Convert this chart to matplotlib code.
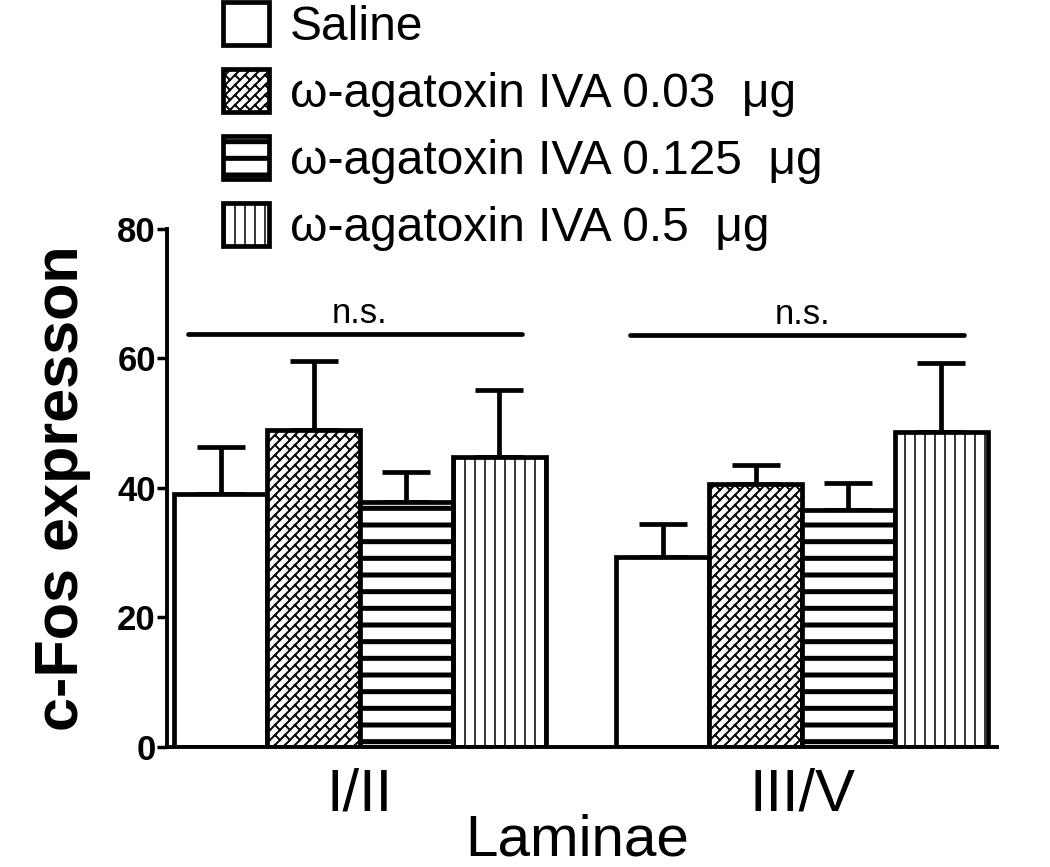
import numpy as np
import matplotlib
matplotlib.use('Agg')
import matplotlib.pyplot as plt
import matplotlib.hatch as mhatch
from matplotlib.path import Path

plt.rcParams['font.family'] = ['Liberation Sans', 'DejaVu Sans']

## ============= data =================================================
groups = ['I/II', 'III/V']
treatments = ['Saline',
              'ω-agatoxin IVA 0.03  μg',
              'ω-agatoxin IVA 0.125  μg',
              'ω-agatoxin IVA 0.5  μg']

saline = [39.0, 29.4]
aga_003 = [49.0, 40.6]
aga_0125 = [37.9, 36.6]
aga_05 = [44.8, 48.7]

saline_sem = [7.4, 5.1]
aga_003_sem = [10.6, 2.9]
aga_0125_sem = [4.5, 4.2]
aga_05_sem = [10.3, 10.6]

ns_level = [63.8, 63.6]
ns_text = ['n.s.', 'n.s.']
yticks = [0, 20, 40, 60, 80]
## ====================================================================


class BrickHatch(mhatch.HatchPatternBase):
    """diagonal brick pattern, takes the place of 'o'"""
    def __init__(self, hatch, density):
        segs = []
        if 'o' in hatch:
            nrow, ncol = 10, 5
            for k in range(-nrow, nrow):
                c0, c1 = k / nrow, (k + 1) / nrow
                segs += [(-0.1, -0.1 + c0), (1.1, 1.1 + c0)]
                for m in range(-2, 2 * ncol + 3):
                    u = (m + 0.5 * (k % 2)) / ncol
                    segs += [((u - c0) / 2, (u + c0) / 2), ((u - c1) / 2, (u + c1) / 2)]
        self.segs = np.array(segs, dtype=float).reshape(-1, 2)
        self.num_vertices = len(self.segs)

    def set_vertices_and_codes(self, vertices, codes):
        vertices[:] = self.segs
        codes[0::2] = Path.MOVETO
        codes[1::2] = Path.LINETO


class VLineHatch(mhatch.HatchPatternBase):
    """thin vertical lines, 10 per tile, takes the place of 'O'"""
    def __init__(self, hatch, density):
        n = 10 if 'O' in hatch else 0
        xs = (np.arange(n) + 0.5) / max(n, 1)
        segs = []
        for xx in xs:
            segs += [(xx, -0.1), (xx, 1.1)]
        self.segs = np.array(segs, dtype=float).reshape(-1, 2)
        self.num_vertices = len(self.segs)

    def set_vertices_and_codes(self, vertices, codes):
        vertices[:] = self.segs
        codes[0::2] = Path.MOVETO
        codes[1::2] = Path.LINETO


mhatch._hatch_types = [t for t in mhatch._hatch_types
                       if t not in (mhatch.SmallCircles, mhatch.LargeCircles)]
mhatch._hatch_types += [BrickHatch, VLineHatch]

fig = plt.figure(figsize=(10.5, 8.67), dpi=100)
ax = fig.add_axes([0.159, 0.1384, 0.7905, 0.5975])

x = np.arange(len(groups))
w = 0.21
lw = 3.4
series = [(saline, saline_sem, '', 1.0),
          (aga_003, aga_003_sem, 'o', 1.4),
          (aga_0125, aga_0125_sem, '-', 3.6),
          (aga_05, aga_05_sem, 'O', 1.1)]

handles = []
for i, (vals, sem, hatch, hlw) in enumerate(series):
    pos = x + (i - 1.5) * w
    plt.rcParams['hatch.linewidth'] = hlw
    bars = ax.bar(pos, vals, width=w, color='white', edgecolor='black',
                  linewidth=lw, hatch=hatch, zorder=2)
    for b in bars:
        if hasattr(b, 'set_hatch_linewidth'):
            b.set_hatch_linewidth(hlw)
    ax.errorbar(pos, vals, yerr=[np.zeros(len(vals)), sem], fmt='none',
                ecolor='black', elinewidth=lw, capsize=17, capthick=lw, zorder=1)
    handles.append(bars)

for i in range(len(groups)):
    ax.plot([x[i] - 0.39, x[i] + 0.366], [ns_level[i], ns_level[i]], color='black',
            lw=lw, solid_capstyle='round')
    ax.text(x[i], ns_level[i] + 1.7, ns_text[i], ha='center', va='baseline', fontsize=25)

ax.set_xlim(-0.4367, 1.441)
ax.set_ylim(0, 80)
ax.set_yticks(yticks)
ax.set_xticks(x)
ax.set_xticklabels(groups, fontsize=43)
ax.tick_params(axis='x', length=0, pad=15)
ax.tick_params(axis='y', length=7, width=2.5, pad=1, labelsize=25)
for t in ax.get_yticklabels():
    t.set_fontweight('bold')
for s in ['top', 'right']:
    ax.spines[s].set_visible(False)
for s in ['left', 'bottom']:
    ax.spines[s].set_linewidth(2.8)

ax.set_ylabel('c-Fos expresson', fontsize=44, fontweight='bold')
ax.yaxis.set_label_coords(-0.091, 0.5)
ax.set_xlabel('Laminae', fontsize=42)
ax.xaxis.set_label_coords(0.494, -0.128)

leg = fig.legend(handles, treatments, loc='upper left', bbox_to_anchor=(0.2124, 0.998),
                 frameon=False, fontsize=34.5, handlelength=0.95, handleheight=1.0,
                 handletextpad=0.45, labelspacing=0.4, borderpad=0, borderaxespad=0)
for p, (vals, sem, hatch, hlw) in zip(leg.get_patches(), series):
    if hasattr(p, 'set_hatch_linewidth'):
        p.set_hatch_linewidth(hlw)

fig.savefig('out.png', dpi=100)
